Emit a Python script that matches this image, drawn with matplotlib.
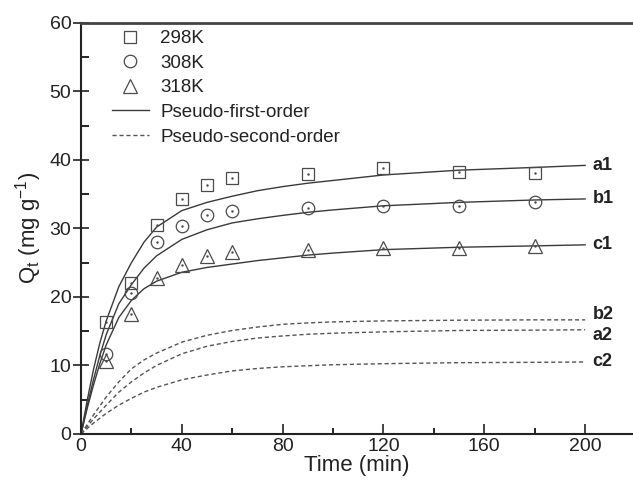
import matplotlib
matplotlib.use("Agg")
import matplotlib.pyplot as plt
from matplotlib.ticker import MultipleLocator
from matplotlib.lines import Line2D

plt.rcParams['font.family'] = ['Liberation Sans', 'DejaVu Sans']
plt.rcParams['mathtext.default'] = 'regular'

# experimental data
t_exp = [10, 20, 30, 40, 50, 60, 90, 120, 150, 180]
q_298 = [16.3, 22.0, 30.5, 34.3, 36.3, 37.3, 38.0, 38.8, 38.3, 38.1]
q_308 = [11.6, 20.5, 28.0, 30.4, 31.9, 32.6, 33.0, 33.2, 33.2, 33.8]
q_318 = [10.7, 17.5, 22.7, 24.7, 26.0, 26.6, 26.9, 27.1, 27.1, 27.4]

# fitted curves
t_fit = [0, 2.5, 5, 7.5, 10, 15, 20, 25, 30, 40, 50, 60, 70, 80, 90, 100, 120, 150, 180, 200]
a1 = [0, 5.0, 9.5, 13.3, 16.5, 21.5, 25.0, 28.0, 30.2, 32.6, 33.8, 34.7, 35.5, 36.1, 36.6, 37.0, 37.8, 38.5, 38.9, 39.2]
b1 = [0, 4.2, 8.0, 11.5, 14.5, 19.0, 21.8, 24.2, 26.0, 28.4, 29.8, 30.8, 31.4, 31.9, 32.35, 32.7, 33.3, 33.8, 34.15, 34.3]
c1 = [0, 3.8, 7.2, 10.3, 13.0, 17.0, 19.5, 21.2, 22.3, 23.6, 24.3, 24.8, 25.3, 25.7, 26.1, 26.4, 26.9, 27.25, 27.45, 27.6]
b2 = [0, 1.4, 2.8, 4.1, 5.4, 7.6, 9.5, 10.8, 11.8, 13.4, 14.4, 15.1, 15.6, 16.0, 16.2, 16.35, 16.5, 16.6, 16.65, 16.65]
a2 = [0, 1.1, 2.2, 3.2, 4.2, 6.1, 7.6, 8.9, 10.0, 11.7, 12.8, 13.5, 14.0, 14.3, 14.55, 14.7, 14.9, 15.1, 15.15, 15.2]
c2 = [0, 0.8, 1.6, 2.3, 3.0, 4.2, 5.2, 6.1, 6.8, 7.9, 8.6, 9.2, 9.55, 9.8, 9.95, 10.1, 10.25, 10.4, 10.45, 10.5]

curve_labels = ['a1', 'b1', 'c1', 'b2', 'a2', 'c2']
legend_labels = ['298K', '308K', '318K', 'Pseudo-first-order', 'Pseudo-second-order']

fig = plt.figure(figsize=(6.33, 4.87), dpi=100)
ax = fig.add_axes([0.128, 0.109, 0.872, 0.844])

mc = '#4a4a4a'
lc = '#3a3a3a'
dc = '#555555'
ax.plot(t_fit, a1, '-', color=lc, lw=1.0)
ax.plot(t_fit, b1, '-', color=lc, lw=1.0)
ax.plot(t_fit, c1, '-', color=lc, lw=1.0)
for yy in (b2, a2, c2):
    ax.plot(t_fit, yy, '--', color=dc, lw=1.0, dashes=(3, 2))

ax.plot(t_exp, q_298, 's', ms=8, mfc='none', mec=mc, mew=0.9, ls='none')
ax.plot(t_exp, q_308, 'o', ms=9, mfc='none', mec=mc, mew=0.9, ls='none')
ax.plot(t_exp, q_318, '^', ms=10, mfc='none', mec=mc, mew=0.9, ls='none')
for yy in (q_298, q_308, q_318):
    ax.plot(t_exp, yy, '.', ms=1.5, color=mc, ls='none')

ends = [a1[-1], b1[-1], c1[-1], b2[-1], a2[-1], c2[-1]]
offs = [0, 0, 0, 0.8, -0.9, 0]
for lab, yv, o in zip(curve_labels, ends, offs):
    ax.text(203, yv + o, lab, fontsize=13, fontweight='bold', va='center', ha='left', color='#222222')

ax.set_xlim(0, 219)
ax.set_ylim(0, 60)
ax.xaxis.set_minor_locator(MultipleLocator(20))
ax.yaxis.set_major_locator(MultipleLocator(10))
ax.yaxis.set_minor_locator(MultipleLocator(5))
ax.set_xticks([0, 40, 80, 120, 160, 200])
ax.tick_params(axis='x', which='major', direction='in', length=7, width=1.2, labelsize=14, pad=3, colors='#222222')
ax.tick_params(axis='x', which='minor', direction='in', length=4, width=1.2)
ax.tick_params(axis='y', which='major', direction='inout', length=12, width=1.2, labelsize=14, pad=1, colors='#222222')
ax.tick_params(axis='y', which='minor', direction='in', length=6, width=1.2)

for s in ('left', 'bottom'):
    ax.spines[s].set_linewidth(1.5)
    ax.spines[s].set_color('#222222')
ax.spines['top'].set_linewidth(2.0)
ax.spines['top'].set_color('#444444')
ax.spines['right'].set_visible(False)

ax.set_xlabel('Time (min)', fontsize=16, labelpad=0, color='#222222')
ax.set_ylabel(r'Q$_t$ (mg g$^{-1}$)', fontsize=16, labelpad=4, color='#222222')

handles = [
    Line2D([], [], marker='s', ms=8, mfc='none', mec=mc, mew=0.9, ls='none'),
    Line2D([], [], marker='o', ms=9, mfc='none', mec=mc, mew=0.9, ls='none'),
    Line2D([], [], marker='^', ms=10, mfc='none', mec=mc, mew=0.9, ls='none'),
    Line2D([], [], color=lc, lw=1.0, ls='-'),
    Line2D([], [], color=dc, lw=1.0, ls='--', dashes=(3, 2)),
]
leg = ax.legend(handles, legend_labels, loc='upper left', bbox_to_anchor=(0.035, 1.01),
                frameon=False, fontsize=13.5, handlelength=2.0, handletextpad=0.6,
                labelspacing=0.4, borderaxespad=0.2)
for t in leg.get_texts():
    t.set_color('#222222')

fig.savefig('out.png', dpi=100)
